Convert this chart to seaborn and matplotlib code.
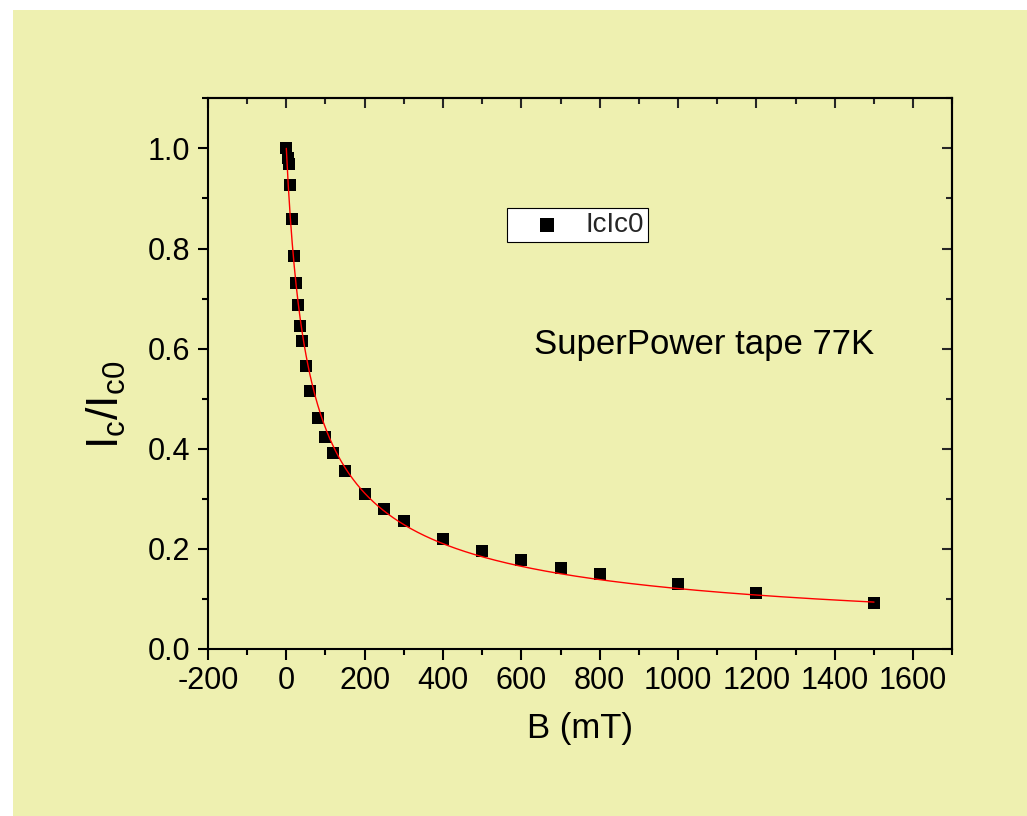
import numpy as np
import pandas as pd
import matplotlib
matplotlib.use("Agg")
import matplotlib.pyplot as plt
from matplotlib.patches import Rectangle
import seaborn as sns

# Normalised critical current of the SuperPower tape at 77 K versus applied field
field_mT = [0, 4, 6, 10, 15, 20, 25, 30, 35, 40, 50, 60, 80, 100, 120, 150,
            200, 250, 300, 400, 500, 600, 700, 800, 1000, 1200, 1500]
ic_ratio = [1.0, 0.98, 0.968, 0.926, 0.859, 0.786, 0.731, 0.688, 0.646, 0.616,
            0.566, 0.515, 0.462, 0.423, 0.391, 0.356, 0.309, 0.279, 0.255,
            0.220, 0.195, 0.177, 0.162, 0.149, 0.129, 0.1125, 0.0926]

x_ticks = [-200, 0, 200, 400, 600, 800, 1000, 1200, 1400, 1600]
y_ticks = [0.0, 0.2, 0.4, 0.6, 0.8, 1.0]

BG = "#EEF0B0"

df = pd.DataFrame({"B": field_mT, "IcIc0": ic_ratio})

# Kim-type fit  Ic/Ic0 = (1 + B/B0)^(-a)  by least squares on a parameter grid
B = df["B"].to_numpy(float)
y = df["IcIc0"].to_numpy(float)
b0_grid = np.linspace(5, 150, 600)[:, None, None]
a_grid = np.linspace(0.2, 1.5, 600)[None, :, None]
pred = (1.0 + B[None, None, :] / b0_grid) ** (-a_grid)
sse = ((pred - y[None, None, :]) ** 2).sum(axis=2)
i, j = np.unravel_index(np.argmin(sse), sse.shape)
b0_fit, a_fit = b0_grid[i, 0, 0], a_grid[0, j, 0]
b_curve = np.linspace(0, B.max(), 600)
fit_df = pd.DataFrame({"B": b_curve, "fit": (1.0 + b_curve / b0_fit) ** (-a_fit)})

sns.set_theme(style="ticks")
plt.rcParams["font.family"] = ["Liberation Sans", "DejaVu Sans"]
plt.rcParams["mathtext.fontset"] = "custom"
plt.rcParams["mathtext.rm"] = "Liberation Sans"

fig = plt.figure(figsize=(10.27, 8.16), dpi=100, facecolor="white")
fig.patches.append(Rectangle((13 / 1027, 0), 1, (816 - 10) / 816,
                             transform=fig.transFigure, facecolor=BG,
                             edgecolor="none", zorder=-10))
ax = fig.add_axes([0.2025, 0.2047, 0.9273 - 0.2025, 0.8795 - 0.2047])
ax.set_facecolor(BG)

sns.scatterplot(data=df, x="B", y="IcIc0", ax=ax, marker="s", s=80,
                color="black", linewidth=0, label="IcIc0", zorder=3)
sns.lineplot(data=fit_df, x="B", y="fit", ax=ax, color="red", linewidth=1.0,
             estimator=None, sort=False, legend=False, zorder=4)

ax.set_xlim(-200, 1700)
ax.set_ylim(0, 1.1)
ax.set_xticks(x_ticks)
ax.set_xticklabels([str(v) for v in x_ticks])
ax.set_yticks(y_ticks)
ax.set_yticklabels([f"{v:.1f}" for v in y_ticks])
ax.xaxis.set_minor_locator(matplotlib.ticker.MultipleLocator(100))
ax.yaxis.set_minor_locator(matplotlib.ticker.MultipleLocator(0.1))

for sp in ax.spines.values():
    sp.set_visible(True)
    sp.set_linewidth(1.5)
    sp.set_color("black")

ax.tick_params(axis="x", which="major", direction="out", length=8, width=1.5,
               labelsize=22, pad=4, colors="black")
ax.tick_params(axis="y", which="major", direction="out", length=7, width=1.5,
               labelsize=22, pad=6, colors="black")
ax.tick_params(which="minor", direction="out", length=4, width=1.5, colors="black")

# inward ticks on the top and right frame
top = ax.secondary_xaxis("top")
top.set_xticks(x_ticks)
top.xaxis.set_minor_locator(matplotlib.ticker.MultipleLocator(100))
top.tick_params(which="major", direction="in", length=7, width=1.5, labeltop=False)
top.tick_params(which="minor", direction="in", length=4, width=1.5)
top.spines["top"].set_linewidth(1.5)
right = ax.secondary_yaxis("right")
right.set_yticks(y_ticks)
right.yaxis.set_minor_locator(matplotlib.ticker.MultipleLocator(0.1))
right.tick_params(which="major", direction="in", length=7, width=1.5, labelright=False)
right.tick_params(which="minor", direction="in", length=4, width=1.5)
right.spines["right"].set_linewidth(1.5)

ax.set_xlabel("B (mT)", fontsize=25, labelpad=12, color="black")
ax.set_ylabel(r"$\mathregular{I_c/I_{c0}}$", fontsize=32, color="black")
ax.yaxis.set_label_coords(-0.107, 0.443)

ax.text(0.438, 0.5357, "SuperPower tape 77K", transform=ax.transAxes,
        fontsize=25, ha="left", va="baseline", color="black")

leg = ax.legend(loc="center", bbox_to_anchor=(0.5623, 0.7243),
                bbox_transform=fig.transFigure, fontsize=20, frameon=True,
                fancybox=False, shadow=False, borderpad=0.15, handlelength=2.6,
                handletextpad=0.1, markerscale=1.1)
leg.get_frame().set_facecolor("white")
leg.get_frame().set_edgecolor("black")
leg.get_frame().set_linewidth(0.8)
leg.get_frame().set_alpha(1.0)

fig.savefig("out.png", dpi=100, facecolor="white")
